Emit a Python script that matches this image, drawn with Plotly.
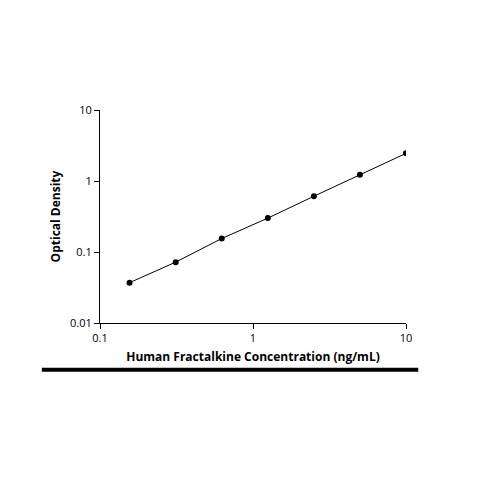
import plotly.graph_objects as go

# standard curve
conc = [0.156, 0.3125, 0.625, 1.25, 2.5, 5, 10]
od = [0.037, 0.072, 0.155, 0.30, 0.61, 1.22, 2.45]

fig = go.Figure()
fig.add_trace(go.Scatter(x=conc, y=od, mode="lines+markers",
                         line=dict(color="black", width=1),
                         marker=dict(color="black", size=6)))

axis_common = dict(type="log", showgrid=False, zeroline=False, showline=True,
                   linecolor="black", linewidth=1, ticks="outside", ticklen=5,
                   tickcolor="black", tickfont=dict(size=11, color="black"))
fig.update_xaxes(range=[-1, 1], tickvals=[0.1, 1, 10], ticktext=["0.1", "1", "10"],
                 title=dict(text="<b>Human Fractalkine Concentration (ng/mL)</b>",
                            font=dict(size=12, color="black"), standoff=8),
                 **axis_common)
fig.update_yaxes(range=[-2, 1], tickvals=[0.01, 0.1, 1, 10],
                 ticktext=["0.01", "0.1", "1", "10"],
                 title=dict(text="<b>Optical Density</b>",
                            font=dict(size=12, color="black"), standoff=6),
                 **axis_common)

fig.add_shape(type="line", xref="paper", yref="paper", x0=-0.19, x1=1.04,
              y0=-0.22, y1=-0.22, line=dict(color="black", width=4))

fig.update_layout(width=500, height=500, showlegend=False,
                  margin=dict(l=92, r=102, t=102, b=185),
                  plot_bgcolor="white", paper_bgcolor="white",
                  font=dict(family="Open Sans"))
fig.write_html("out.html")
